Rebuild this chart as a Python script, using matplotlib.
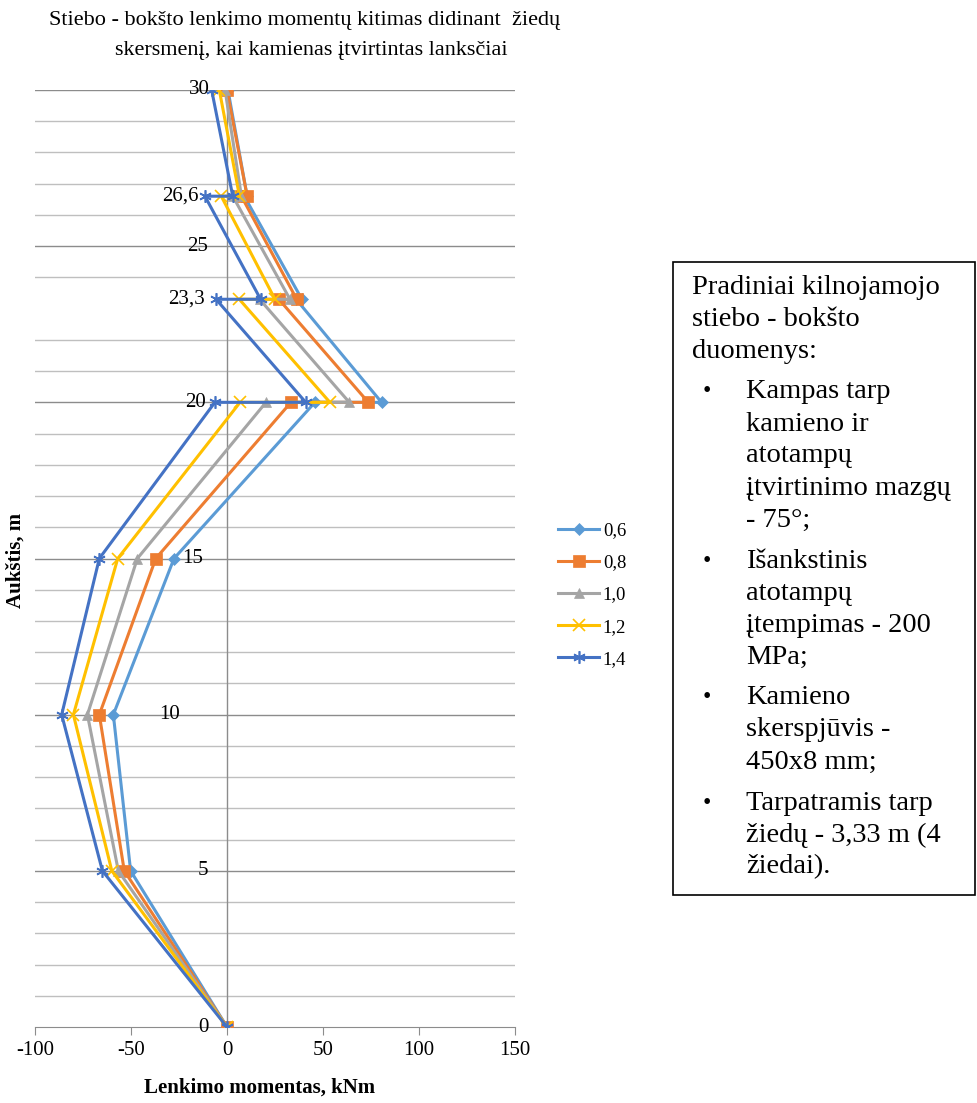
import matplotlib
matplotlib.use("Agg")
import matplotlib.pyplot as plt
from matplotlib.patches import Rectangle

plt.rcParams['font.family'] = ['Liberation Serif', 'DejaVu Serif']
plt.rcParams['axes.unicode_minus'] = False

# Heights along the mast (jumps at ring levels 20, 23.3, 26.6)
heights = [0, 5, 10, 15, 20, 20, 23.3, 23.3, 26.6, 26.6, 30]

series_names = ["0,6", "0,8", "1,0", "1,2", "1,4"]
m_06 = [0, -50.2, -59.2, -27.6, 45.8, 80.5, 36.0, 39.0, 9.0, 10.5, 0.5]
m_08 = [0, -53.5, -66.5, -37.1, 33.3, 73.6, 27.0, 36.3, 7.5, 10.5, 0.0]
m_10 = [0, -56.6, -72.7, -46.7, 20.3, 63.7, 17.0, 32.8, 3.0, 7.5, -1.0]
m_12 = [0, -60.0, -80.0, -56.9, 6.8, 53.6, 6.4, 25.0, -3.0, 6.5, -4.0]
m_14 = [0, -64.9, -86.1, -66.5, -6.3, 41.0, -5.7, 17.5, -11.5, 3.0, -8.0]

colors = ["#5B9BD5", "#ED7D31", "#A5A5A5", "#FFC000", "#4472C4"]
markers = ["D", "s", "^", "x", (6, 2, 0)]
msizes = [6, 8, 7, 9, 9]

# labels written next to the mast levels
lvl_text = ["30", "26,6", "25", "23,3", "20", "15", "10", "5", "0"]
lvl_y = [30, 26.6, 25, 23.3, 20, 15, 10, 5, 0]
lvl_x = [-9, -15, -10, -11.5, -11, -18, -30, -12.5, -12.5]
lvl_ha = ["right", "right", "right", "right", "right", "center", "center", "center", "center"]

fig = plt.figure(figsize=(9.77, 11.03), dpi=100)
ax = fig.add_axes([35 / 977, 1 - 1027 / 1103, 480 / 977, 937 / 1103])

# horizontal grid lines
for g in range(1, 31):
    if g == 23:
        continue
    if g % 5 == 0:
        ax.axhline(g, color="#8c8c8c", lw=1.0, zorder=0)
    else:
        ax.axhline(g, color="#bfbfbf", lw=1.0, zorder=0)
ax.axvline(0, color="#8c8c8c", lw=1.0, zorder=0)

all_m = [m_06, m_08, m_10, m_12, m_14]
for name, m, c, mk, ms in zip(series_names, all_m, colors, markers, msizes):
    ax.plot(m, heights, color=c, lw=2.2, marker=mk, markersize=ms,
            markeredgewidth=1.2 if mk == "x" or isinstance(mk, tuple) else 0.5,
            markeredgecolor=c, label=name, zorder=3)

for t, xv, yv, ha in zip(lvl_text, lvl_x, lvl_y, lvl_ha):
    ax.text(xv, yv, t, ha=ha, va="center", fontsize=15, zorder=5)

ax.set_xlim(-100, 150)
ax.set_ylim(0, 30)
ax.set_xticks([-100, -50, 0, 50, 100, 150])
ax.set_yticks([])
ax.tick_params(axis="x", labelsize=15, length=6, color="#8c8c8c", pad=4)
for s in ["top", "right", "left"]:
    ax.spines[s].set_visible(False)
ax.spines["bottom"].set_color("#8c8c8c")
ax.patch.set_alpha(0)

fig.text(305 / 977, 1 - 20 / 1103, "Stiebo - bokšto lenkimo momentų kitimas didinant  žiedų",
         ha="center", va="center", fontsize=16)
fig.text(311 / 977, 1 - 50 / 1103, "skersmenį, kai kamienas įtvirtintas lanksčiai",
         ha="center", va="center", fontsize=16)
fig.text(260 / 977, 1 - 1088 / 1103, "Lenkimo momentas, kNm", ha="center", va="center",
         fontsize=15, fontweight="bold")
fig.text(16 / 977, 1 - 560 / 1103, "Aukštis, m", ha="center", va="center",
         fontsize=15, fontweight="bold", rotation=90)

fig.legend(loc="center left", bbox_to_anchor=(541 / 977, 1 - 595 / 1103), frameon=False,
           fontsize=13.5, handlelength=2.2, labelspacing=0.8, handletextpad=0.2)

# info box
fig.patches.append(Rectangle((673 / 977, 1 - 895 / 1103), 302 / 977, 633 / 1103,
                             transform=fig.transFigure, fill=False, edgecolor="black", lw=1.2))
header = ["Pradiniai kilnojamojo", "stiebo - bokšto", "duomenys:"]
bullets = [
    ["Kampas tarp", "kamieno ir", "atotampų", "įtvirtinimo mazgų", "- 75°;"],
    ["Išankstinis", "atotampų", "įtempimas - 200", "MPa;"],
    ["Kamieno", "skerspjūvis -", "450x8 mm;"],
    ["Tarpatramis tarp", "žiedų - 3,33 m (4", "žiedai)."],
]
y = 288
for line in header:
    fig.text(692 / 977, 1 - y / 1103, line, fontsize=20.5, va="center")
    y += 32
y += 8
for b in bullets:
    fig.text(703 / 977, 1 - y / 1103, "•", fontsize=17, va="center")
    for line in b:
        fig.text(746 / 977, 1 - y / 1103, line, fontsize=20.5, va="center")
        y += 32
    y += 9

fig.savefig("out.png", dpi=100)
